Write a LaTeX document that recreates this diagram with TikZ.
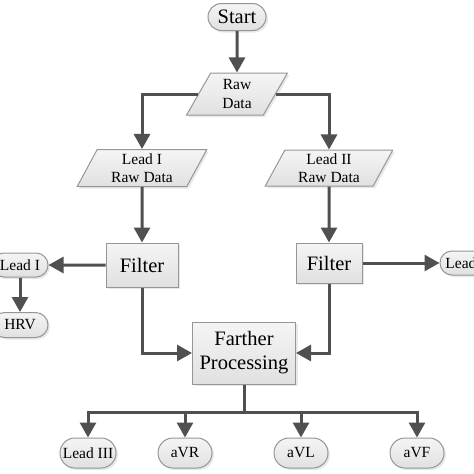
\documentclass[tikz,border=0pt]{standalone}
\usepackage{fontspec}
\setmainfont{Liberation Serif}
\usetikzlibrary{shapes.geometric,shapes.misc,arrows.meta,shadows}
\newcommand{\bigtxt}{\fontsize{20.5}{24}\selectfont}
\newcommand{\smtxt} {\fontsize{15.5}{18.5}\selectfont}
\definecolor{edgegray}{RGB}{150,150,150}
\definecolor{linegray}{RGB}{80,80,80}

\begin{document}
\begin{tikzpicture}[x=1pt,y=-1pt,
   boxfill/.style={draw=edgegray,line width=1pt,top color=white!96!black,bottom color=black!12,
      drop shadow={shadow xshift=2pt,shadow yshift=-2pt,fill=black!18}},
   term/.style={boxfill,rounded rectangle,inner xsep=4pt,inner ysep=0pt,font=\smtxt},
   datain/.style={boxfill,trapezium,trapezium left angle=65,trapezium right angle=115,
      trapezium stretches=true,align=center,inner sep=0pt,font=\smtxt},
   proc/.style={boxfill,rectangle,align=center,inner sep=0pt,font=\bigtxt},
   arr/.style={draw=linegray,line width=3pt,-{Triangle[width=16pt,length=15pt]}}]
   \useasboundingbox (0,0) rectangle (474,474);
   \node[term,font=\bigtxt,minimum width=66,minimum height=27] (start) at (237,17) {Start};
   \node[datain,minimum width=101,minimum height=42] (raw) at (237,94) {Raw\\Data};
   \node[datain,minimum width=130,minimum height=37] (lead1) at (142,168) {Lead I\\Raw Data};
   \node[datain,minimum width=128,minimum height=36] (lead2) at (329,168) {Lead II\\Raw Data};
   \node[proc,minimum width=72,minimum height=44] (filt1) at (142,265) {Filter};
   \node[proc,minimum width=66,minimum height=40] (filt2) at (329,263) {Filter};
   \node[term,minimum width=64,minimum height=24] (outI) at (20,265) {Lead I};
   \node[term,minimum width=64,minimum height=25] (hrv) at (20,325) {HRV};
   \node[term,minimum width=64,minimum height=24] (outII) at (468,263) {Lead II};
   \node[proc,minimum width=103,minimum height=62] (farther) at (244,353) {Farther\\Processing};
   \coordinate (bus) at (244,412);
   \node[term,minimum width=64,minimum height=30] (l3) at (88,453) {Lead III};
   \node[term,minimum width=62,minimum height=30] (avr) at (185,453) {aVR};
   \node[term,minimum width=62,minimum height=30] (avl) at (301,453) {aVL};
   \node[term,minimum width=62,minimum height=30] (avf) at (417,453) {aVF};
   \draw[arr] (start) -- (raw);
   \draw[arr] (raw.west) -| (lead1.north);
   \draw[arr] (raw.east) -| (lead2.north);
   \draw[arr] (lead1) -- (filt1);
   \draw[arr] (lead2) -- (filt2);
   \draw[arr] (filt1) -- (outI);
   \draw[arr] (outI) -- (hrv);
   \draw[arr] (filt2) -- (outII);
   \draw[arr] (filt1.south) |- (farther.west);
   \draw[arr] (filt2.south) |- (farther.east);
   \draw[draw=linegray,line width=3pt] (farther.south) -- (bus);
   \foreach \n in {l3,avr,avl,avf}
      \draw[arr] (bus) -| (\n.north);
\end{tikzpicture}
\end{document}
